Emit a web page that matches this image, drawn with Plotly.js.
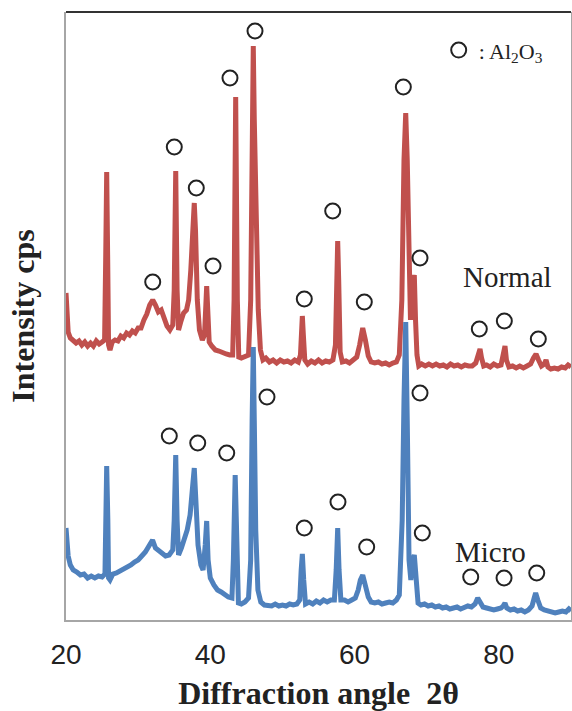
<!DOCTYPE html>
<html>
<head>
<meta charset="utf-8">
<script src="https://cdn.plot.ly/plotly-3.0.1.min.js"></script>
<style>
html,body{margin:0;padding:0;background:#fff;}
#chart{width:572px;height:711px;}
</style>
</head>
<body>
<div id="chart"></div>
<script>
// 2θ values and intensities (arbitrary cps, offset patterns)
var normalAngle = [20.0,20.15,20.3,20.6,21.0,21.4,21.8,22.2,22.6,23.0,23.4,23.8,24.2,24.6,25.0,25.35,25.5,25.64,25.78,25.9,26.1,26.4,26.8,27.2,27.6,28.0,28.4,28.8,29.2,29.6,30.0,30.4,30.8,31.2,31.6,32.02,32.4,32.8,33.2,33.6,34.0,34.4,34.8,35.0,35.21,35.4,35.6,35.9,36.3,36.7,37.0,37.3,37.55,37.78,37.95,38.2,38.5,38.9,39.2,39.35,39.5,39.65,39.85,40.2,40.7,41.2,41.7,42.2,42.7,43.1,43.3,43.52,43.75,43.95,44.3,44.8,45.3,45.6,45.8,45.96,46.1,46.35,46.65,46.95,47.3,47.7,48.2,48.7,49.2,49.7,50.2,50.7,51.2,51.7,52.2,52.5,52.65,52.76,52.9,53.1,53.5,54.0,54.5,55.0,55.5,56.0,56.5,57.0,57.35,57.5,57.66,57.8,58.0,58.3,58.8,59.3,59.8,60.3,60.7,61.13,61.5,61.9,62.3,62.8,63.3,63.8,64.3,64.8,65.3,65.8,66.2,66.55,66.85,67.09,67.3,67.55,67.75,67.95,68.15,68.28,68.45,68.65,68.9,69.3,69.8,70.3,70.8,71.3,71.8,72.3,72.8,73.3,73.8,74.3,74.8,75.3,75.8,76.3,76.8,77.15,77.39,77.6,77.9,78.3,78.8,79.3,79.8,80.3,80.6,80.85,81.05,81.4,81.9,82.4,82.9,83.4,83.9,84.4,84.8,85.15,85.5,85.9,86.3,86.54,86.8,87.2,87.7,88.2,88.7,89.2,89.6,90.0];
var normalIntensity = [327,302,288,282,280,277,279,275,278,274,277,274,279,276,278,280,360,448,360,275,270,278,280,279,284,282,287,285,289,287,292,292,300,306,315,320,315,308,310,302,294,290,295,330,449,330,290,298,307,310,320,350,395,417,390,320,290,280,285,310,334,310,278,274,270,269,267,266,265,265,320,523,320,263,262,263,265,320,470,574,500,390,310,270,260,262,258,260,257,260,258,259,257,260,258,265,290,304,285,260,256,259,257,260,257,259,258,260,275,340,379,340,268,258,259,257,260,263,275,292,280,264,258,257,258,256,257,255,257,258,265,320,460,507,460,320,300,330,345,345,300,265,254,256,254,256,254,256,254,255,253,256,254,255,253,255,254,254,257,268,271,262,254,255,253,256,254,255,265,274,260,253,254,252,254,252,254,256,262,266,260,254,256,260,253,251,252,251,253,252,255,253];

var microAngle = [20.0,20.15,20.3,20.6,21.0,21.5,22.0,22.5,23.0,23.5,24.0,24.5,25.0,25.4,25.5,25.64,25.8,25.9,26.1,26.5,27.0,27.5,28.0,28.5,29.0,29.5,30.0,30.5,31.0,31.5,32.0,32.4,32.8,33.3,33.8,34.3,34.8,35.0,35.21,35.4,35.6,36.0,36.4,36.8,37.2,37.5,37.78,38.0,38.3,38.7,39.0,39.3,39.5,39.7,40.0,40.5,41.0,41.5,42.0,42.5,43.0,43.2,43.45,43.7,43.9,44.3,44.8,45.3,45.6,45.8,45.96,46.1,46.3,46.6,47.0,47.5,48.0,48.5,49.0,49.5,50.0,50.5,51.0,51.5,52.0,52.4,52.6,52.76,52.95,53.2,53.7,54.2,54.7,55.2,55.7,56.2,56.7,57.2,57.45,57.66,57.85,58.1,58.6,59.1,59.6,60.1,60.5,60.8,61.13,61.5,61.9,62.3,62.8,63.3,63.8,64.3,64.8,65.3,65.8,66.2,66.6,66.85,67.09,67.3,67.55,67.8,68.0,68.28,68.5,68.8,69.2,69.7,70.2,70.7,71.2,71.7,72.2,72.7,73.2,73.7,74.2,74.7,75.2,75.7,76.2,76.7,77.07,77.4,77.8,78.3,78.8,79.3,79.8,80.3,80.6,80.85,81.1,81.6,82.1,82.6,83.1,83.6,84.1,84.6,84.9,85.1,85.4,85.8,86.3,86.8,87.3,87.8,88.3,88.8,89.3,89.7,90.0];
var microIntensity = [92,75,64,55,50,48,45,46,42,44,42,44,43,46,100,154,100,42,40,46,47,49,50,53,55,58,60,64,68,74,80,72,70,67,64,65,70,100,165,100,65,72,80,90,105,130,152,120,75,55,50,75,99,60,42,35,30,28,25,23,22,60,145,60,17,16,18,22,60,200,273,200,90,30,18,15,15,14,16,14,15,14,16,15,16,20,50,66,40,16,18,16,19,17,20,18,20,20,50,92,50,20,20,18,20,22,30,40,45,35,23,18,17,18,16,17,18,17,20,25,100,220,298,200,60,40,58,65,35,17,15,16,14,15,13,14,12,13,11,12,13,11,12,14,13,16,22,17,13,12,11,10,11,12,14,17,12,10,11,9,10,8,10,14,22,27,20,12,10,9,8,7,8,9,8,11,9];

// Al2O3 peak markers (open circles)
var normalMarkAngle = [32.02,35.01,38.06,40.38,42.73,46.20,53.03,56.97,61.35,66.76,69.07,77.29,80.76,85.47];
var normalMarkLevel = [338,473,432,354,542,589,321,409,318,533,362,291,299,281];
var microMarkAngle = [34.32,38.26,42.28,47.86,53.03,57.70,61.68,69.07,69.39,76.10,80.72,85.25];
var microMarkLevel = [184,177,167,223,92,118,73,227,87,43,42,47];

var xTicks = [20,40,60,80];
var seriesNames = ['Normal','Micro'];

var serif = 'Liberation Serif, Times New Roman, serif';
var narrow = 'Liberation Sans Narrow, Arial Narrow, Liberation Sans, Arial, sans-serif';

var traces = [
  {x: normalAngle, y: normalIntensity, type: 'scatter', mode: 'lines', name: seriesNames[0],
   line: {color: '#C0504D', width: 5}, showlegend: false},
  {x: microAngle, y: microIntensity, type: 'scatter', mode: 'lines', name: seriesNames[1],
   line: {color: '#4F81BD', width: 5}, showlegend: false},
  {x: normalMarkAngle, y: normalMarkLevel, type: 'scatter', mode: 'markers',
   name: ': Al<sub>2</sub>O<sub>3</sub>', legendgroup: 'al',
   marker: {symbol: 'circle-open', size: 15, color: '#222', line: {width: 2, color: '#222'}},
   showlegend: true},
  {x: microMarkAngle, y: microMarkLevel, type: 'scatter', mode: 'markers',
   name: ': Al<sub>2</sub>O<sub>3</sub>', legendgroup: 'al',
   marker: {symbol: 'circle-open', size: 15, color: '#222', line: {width: 2, color: '#222'}},
   showlegend: false}
];

var layout = {
  width: 572, height: 711,
  margin: {l: 66, r: 1, t: 12, b: 91},
  paper_bgcolor: '#fff', plot_bgcolor: '#fff',
  showlegend: true,
  legend: {x: 0.738, y: 0.937, xanchor: 'left', yanchor: 'middle',
           bgcolor: 'rgba(0,0,0,0)', font: {family: serif, size: 22, color: '#222'},
           itemwidth: 30},
  xaxis: {
    range: [20, 90], tickvals: xTicks, ticktext: xTicks.map(String),
    showgrid: false, zeroline: false, showline: true, linecolor: '#a6a6a6', linewidth: 2,
    ticks: '', ticklabelstandoff: 8,
    tickfont: {family: narrow, size: 28, color: '#222'},
    title: {text: 'Diffraction angle\u00a0 2θ', standoff: 16,
            font: {family: serif, size: 32, color: '#222', weight: 'bold'}},
    automargin: false
  },
  yaxis: {
    range: [0, 608], showticklabels: false, showgrid: false, zeroline: false,
    showline: true, linecolor: '#a6a6a6', linewidth: 2, mirror: true, ticks: '',
    title: {text: 'Intensity cps', standoff: 20,
            font: {family: serif, size: 32, color: '#222', weight: 'bold'}},
    automargin: false
  },
  shapes: [
    {type: 'line', xref: 'paper', yref: 'paper', x0: 0, x1: 1, y0: 1, y1: 1,
     line: {color: '#333', width: 2}}
  ],
  annotations: [
    {text: seriesNames[0], xref: 'paper', yref: 'paper', x: 0.875, y: 0.5646,
     xanchor: 'center', yanchor: 'middle', showarrow: false,
     font: {family: serif, size: 29, color: '#222'}},
    {text: seriesNames[1], xref: 'paper', yref: 'paper', x: 0.8406, y: 0.1123,
     xanchor: 'center', yanchor: 'middle', showarrow: false,
     font: {family: serif, size: 29, color: '#222'}}
  ]
};

Plotly.newPlot('chart', traces, layout, {displayModeBar: false, staticPlot: true});
</script>
</body>
</html>
